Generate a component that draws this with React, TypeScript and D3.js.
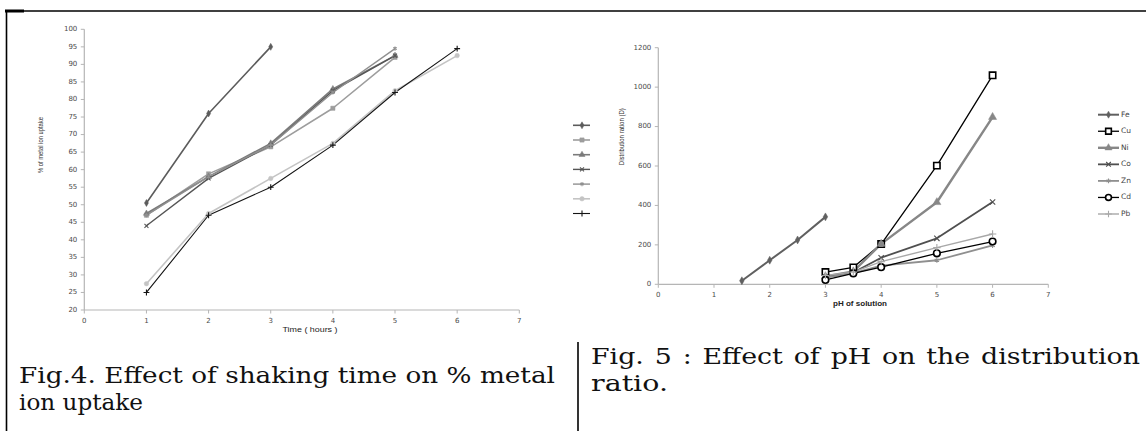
import React from 'react';
import * as d3 from 'd3';

const W = 1146;
const H = 431;

// Fig. 4 : shaking time (hours) vs % metal ion uptake (7 unnamed series)
const timeHours = [1, 2, 3, 4, 5, 6];
const uptakeA = [50.5, 76, 95];
const uptakeB = [47, 58.8, 66.5, 77.5, 92];
const uptakeC = [47.5, 58, 67.5, 83, 92.5];
const uptakeD = [44, 57.5, 67, 82.5, 92.5];
const uptakeE = [47, 58, 67, 82, 94.5];
const uptakeF = [27.5, 47.5, 57.5, 67.5, 82.5, 92.5];
const uptakeG = [25, 47, 55, 67, 82, 94.5];
const uptakeTicks = [20, 25, 30, 35, 40, 45, 50, 55, 60, 65, 70, 75, 80, 85, 90, 95, 100];
const timeTicks = [0, 1, 2, 3, 4, 5, 6, 7];

// Fig. 5 : pH vs distribution ratio
const metals = ['Fe', 'Cu', 'Ni', 'Co', 'Zn', 'Cd', 'Pb'];
const phFe = [1.5, 2, 2.5, 3];
const distFe = [18, 122, 225, 342];
const phOthers = [3, 3.5, 4, 5, 6];
const distCu = [62, 86, 204, 602, 1060];
const distNi = [40, 65, 205, 416, 848];
const distCo = [35, 60, 135, 233, 417];
const distZn = [35, 57, 95, 122, 197];
const distCd = [22, 55, 87, 157, 217];
const distPb = [45, 62, 115, 186, 255];
const distTicks = [0, 200, 400, 600, 800, 1000, 1200];
const phTicks = [0, 1, 2, 3, 4, 5, 6, 7];

type Kind = 'diamond' | 'square' | 'triangle' | 'x' | 'star' | 'circle' | 'plus';

interface Series {
  xs: number[];
  ys: number[];
  kind: Kind;
  color: string;
  width: number;
  size: number;
  open?: boolean;
}

const symbolTypes: Record<Kind, any> = {
  diamond: d3.symbolDiamond,
  square: d3.symbolSquare,
  triangle: d3.symbolTriangle,
  x: (d3 as any).symbolTimes || d3.symbolCross,
  star: (d3 as any).symbolAsterisk || d3.symbolStar,
  circle: d3.symbolCircle,
  plus: (d3 as any).symbolPlus || d3.symbolCross,
};
const strokeKinds: Kind[] = ['x', 'star', 'plus'];

function Marker({ s, x, y }: { s: Series; x: number; y: number }) {
  const d = d3.symbol().type(symbolTypes[s.kind]).size(s.size)() || '';
  const stroked = strokeKinds.includes(s.kind);
  if (s.open) {
    return <path d={d} transform={`translate(${x},${y})`} fill="#fff" stroke={s.color} strokeWidth={1.6} />;
  }
  return (
    <path
      d={d}
      transform={`translate(${x},${y})`}
      fill={stroked ? 'none' : s.color}
      stroke={s.color}
      strokeWidth={stroked ? 1.1 : 0.5}
    />
  );
}

const fig4Series: Series[] = [
  { xs: timeHours, ys: uptakeA, kind: 'diamond', color: '#5c5c5c', width: 1.6, size: 14 },
  { xs: timeHours, ys: uptakeB, kind: 'square', color: '#9d9d9d', width: 1.6, size: 18 },
  { xs: timeHours, ys: uptakeC, kind: 'triangle', color: '#7b7b7b', width: 1.6, size: 16 },
  { xs: timeHours, ys: uptakeD, kind: 'x', color: '#555555', width: 1.4, size: 12 },
  { xs: timeHours, ys: uptakeE, kind: 'star', color: '#909090', width: 1.4, size: 12 },
  { xs: timeHours, ys: uptakeF, kind: 'circle', color: '#c4c4c4', width: 1.6, size: 16 },
  { xs: timeHours, ys: uptakeG, kind: 'plus', color: '#141414', width: 1.1, size: 13 },
];

const fig5Series: Series[] = [
  { xs: phFe, ys: distFe, kind: 'diamond', color: '#606060', width: 2, size: 18 },
  { xs: phOthers, ys: distCu, kind: 'square', color: '#000000', width: 1.3, size: 40, open: true },
  { xs: phOthers, ys: distNi, kind: 'triangle', color: '#878787', width: 2.4, size: 28 },
  { xs: phOthers, ys: distCo, kind: 'x', color: '#4f4f4f', width: 1.8, size: 20 },
  { xs: phOthers, ys: distZn, kind: 'star', color: '#8f8f8f', width: 1.8, size: 18 },
  { xs: phOthers, ys: distCd, kind: 'circle', color: '#000000', width: 1.3, size: 34, open: true },
  { xs: phOthers, ys: distPb, kind: 'plus', color: '#a8a8a8', width: 1.4, size: 20 },
];

const axisColor = '#b5b5b5';
const tickFont = { fontFamily: 'DejaVu Sans, sans-serif', fontSize: 7, fill: '#4a4a4a' };

function Chart({
  series,
  x,
  y,
  xTicks,
  yTicks,
}: {
  series: Series[];
  x: d3.ScaleLinear<number, number>;
  y: d3.ScaleLinear<number, number>;
  xTicks: number[];
  yTicks: number[];
}) {
  const [x0, x1] = x.range();
  const [y0] = y.range();
  const line = (s: Series) =>
    d3.line<number>()
      .x((_, i) => x(s.xs[i]))
      .y((v) => y(v))(s.ys) || '';
  return (
    <g>
      <line x1={x0} x2={x0} y1={y.range()[1]} y2={y0} stroke={axisColor} strokeWidth={1.2} />
      <line x1={x0} x2={x1} y1={y0} y2={y0} stroke={axisColor} strokeWidth={1.2} />
      {yTicks.map((t) => (
        <g key={`y${t}`}>
          <line x1={x0 - 3.5} x2={x0} y1={y(t)} y2={y(t)} stroke={axisColor} />
          <text x={x0 - 7} y={y(t)} textAnchor="end" dominantBaseline="middle" {...tickFont}>{t}</text>
        </g>
      ))}
      {xTicks.map((t) => (
        <g key={`x${t}`}>
          <line x1={x(t)} x2={x(t)} y1={y0} y2={y0 + 3.5} stroke={axisColor} />
          <text x={x(t)} y={y0 + 11} textAnchor="middle" dominantBaseline="middle" {...tickFont}>{t}</text>
        </g>
      ))}
      {series.map((s, i) => (
        <path key={`l${i}`} d={line(s)} fill="none" stroke={s.color} strokeWidth={s.width} strokeLinejoin="round" />
      ))}
      {series.map((s, i) =>
        s.ys.map((v, j) => <Marker key={`m${i}-${j}`} s={s} x={x(s.xs[j])} y={y(v)} />)
      )}
    </g>
  );
}

export default function App() {
  const x4 = d3.scaleLinear().domain([0, 7]).range([84.3, 519.3]);
  const y4 = d3.scaleLinear().domain([20, 100]).range([310, 29.3]);
  const x5 = d3.scaleLinear().domain([0, 7]).range([658.3, 1048.3]);
  const y5 = d3.scaleLinear().domain([0, 1200]).range([284.3, 47.7]);

  const captionFont = { fontFamily: 'DejaVu Serif, serif', fontSize: 23, fill: '#111' };
  const smallFont = { fontFamily: 'Liberation Sans Narrow, Liberation Sans, sans-serif', fontSize: 6.5, fill: '#333' };

  return (
    <div style={{ position: 'absolute', left: 0, top: 0, width: W, height: H, background: '#fff' }}>
      <svg width={W} height={H} viewBox={`0 0 ${W} ${H}`}>
        <defs>
          <clipPath id="leftLegendClip">
            <rect x={0} y={0} width={590} height={H} />
          </clipPath>
        </defs>
        <rect width={W} height={H} fill="#fff" />

        {/* page frame */}
        <line x1={5} x2={W} y1={11} y2={11} stroke="#000" strokeWidth={1.5} />
        <rect x={5} y={9.5} width={19} height={3} fill="#000" />
        <line x1={6.5} x2={6.5} y1={10} y2={H} stroke="#000" strokeWidth={1.6} />
        <line x1={578} x2={578} y1={342} y2={H} stroke="#000" strokeWidth={1.6} />

        {/* Fig. 4 */}
        <Chart series={fig4Series} x={x4} y={y4} xTicks={timeTicks} yTicks={uptakeTicks} />
        <text x={310} y={330} textAnchor="middle" dominantBaseline="middle" textLength={55}
          lengthAdjust="spacingAndGlyphs" {...smallFont} fill="#222">Time ( hours )</text>
        <text transform="translate(41.7,145) rotate(-90)" textAnchor="middle" dominantBaseline="middle"
          textLength={56} lengthAdjust="spacingAndGlyphs" {...smallFont}>% of metal ion uptake</text>
        <g clipPath="url(#leftLegendClip)">
          {fig4Series.map((s, i) => {
            const ly = 125.3 + i * 14.7;
            return (
              <g key={`lg4${i}`}>
                <line x1={573} x2={596} y1={ly} y2={ly} stroke={s.color} strokeWidth={s.width} />
                <Marker s={s} x={582} y={ly} />
              </g>
            );
          })}
        </g>

        {/* Fig. 5 */}
        <Chart series={fig5Series} x={x5} y={y5} xTicks={phTicks} yTicks={distTicks} />
        <text x={860} y={304} textAnchor="middle" dominantBaseline="middle" textLength={54}
          lengthAdjust="spacingAndGlyphs" {...smallFont} fontWeight="bold" fill="#222">pH of solution</text>
        <text transform="translate(622.7,136.7) rotate(-90)" textAnchor="middle" dominantBaseline="middle"
          textLength={57} lengthAdjust="spacingAndGlyphs" {...smallFont}>Distribution ration (D)</text>
        {fig5Series.map((s, i) => {
          const ly = 114.7 + i * 16.55;
          return (
            <g key={`lg5${i}`}>
              <line x1={1098} x2={1119} y1={ly} y2={ly} stroke={s.color} strokeWidth={s.width} />
              <Marker s={{ ...s, size: s.size * 0.8 }} x={1108.5} y={ly} />
              <text x={1121} y={ly} dominantBaseline="middle" {...tickFont} fontSize={7.5} fill="#444">{metals[i]}</text>
            </g>
          );
        })}

        {/* captions */}
        <text x={19} y={383} textLength={536} lengthAdjust="spacingAndGlyphs" {...captionFont}>
          Fig.4. Effect of shaking time on % metal
        </text>
        <text x={19} y={410} textLength={124} lengthAdjust="spacingAndGlyphs" {...captionFont}>ion uptake</text>
        <text x={591} y={364} textLength={549} lengthAdjust="spacingAndGlyphs" {...captionFont}
          style={{ wordSpacing: '2px' }}>
          Fig. 5 : Effect of pH on the distribution
        </text>
        <text x={591} y={391} textLength={77} lengthAdjust="spacingAndGlyphs" {...captionFont}>ratio.</text>
      </svg>
    </div>
  );
}
